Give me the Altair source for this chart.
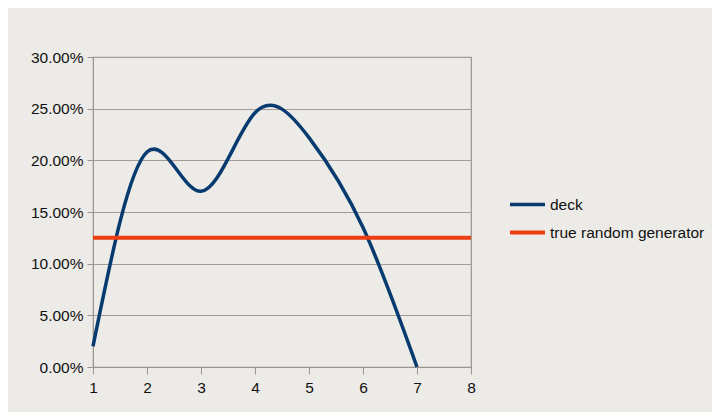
import altair as alt
import pandas as pd

x_deck = [1, 2, 3, 4, 5, 6, 7]
y_deck = [0.02, 0.208, 0.17, 0.246, 0.222, 0.135, 0.0]
x_rand = [1, 8]
y_rand = [0.125, 0.125]
series = ["deck", "true random generator"]
colors = ["#073b6f", "#ec3e10"]

rows = [{"x": a, "y": b, "series": series[0]} for a, b in zip(x_deck, y_deck)]
rows += [{"x": a, "y": b, "series": series[1]} for a, b in zip(x_rand, y_rand)]
df = pd.DataFrame(rows)

font = "Liberation Sans"

chart = alt.Chart(df).mark_line(interpolate="natural").encode(
    x=alt.X("x:Q", scale=alt.Scale(domain=[1, 8], nice=False),
            axis=alt.Axis(values=[1, 2, 3, 4, 5, 6, 7, 8], format="d", grid=False,
                          title=None, tickSize=7, labelPadding=6, labelFlush=False,
                          domainColor="#9a948e", tickColor="#9a948e",
                          labelColor="#111", labelFontSize=15.5, labelFont=font)),
    y=alt.Y("y:Q", scale=alt.Scale(domain=[0, 0.30], nice=False),
            axis=alt.Axis(values=[0, 0.05, 0.10, 0.15, 0.20, 0.25, 0.30], format=".2%",
                          title=None, tickSize=6, labelPadding=4, labelFlush=False,
                          grid=True, gridColor="#a49d96", gridWidth=1.2,
                          domainColor="#9a948e", tickColor="#9a948e",
                          labelColor="#111", labelFontSize=15.5, labelFont=font)),
    color=alt.Color("series:N", scale=alt.Scale(domain=series, range=colors),
                    legend=alt.Legend(title=None, orient="none", legendX=415, legendY=128,
                                      symbolType="stroke", symbolSize=1225,
                                      symbolStrokeWidth=3, labelFontSize=15.5,
                                      labelFont=font, labelColor="#111",
                                      rowPadding=-16, labelOffset=3)),
    strokeWidth=alt.StrokeWidth("series:N", scale=alt.Scale(domain=series, range=[3.5, 4]),
                                legend=None),
).properties(
    width=378, height=310,
    padding={"left": 85, "top": 49, "right": 241, "bottom": 45},
    autosize=alt.AutoSizeParams(type="none"),
    background="#edebe8",
).configure_view(stroke="#9a948e", strokeWidth=1.2)

chart.save("out.html", embed_options={"renderer": "svg", "actions": False})
